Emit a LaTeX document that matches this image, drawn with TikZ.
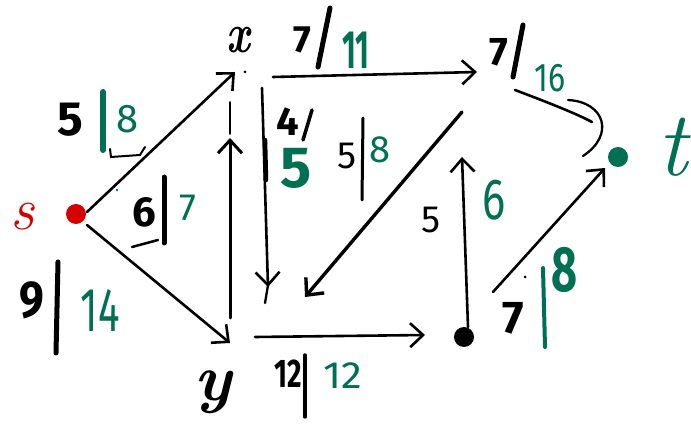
\documentclass[tikz,border=0pt]{standalone}
\usepackage{fontspec}
\usepackage{graphicx}
\newfontfamily\dg{Fira Sans}
\usetikzlibrary{arrows.meta,calc}
\definecolor{grn}{RGB}{0,112,82}
\definecolor{rd}{RGB}{215,0,0}
\newcommand{\fsz}[1]{\fontsize{#1}{#1}\selectfont}
\newcommand{\nx}[2]{\scalebox{#1}[1]{#2}}
\begin{document}
\begin{tikzpicture}[x=1pt,y=-1pt,
  edge/.style={line width=2.6pt,line cap=round,-{Straight Barb[length=13pt,width=24pt]}},
  stroke/.style={line width=2.3pt,line cap=round},
  bar/.style={line width=4pt,line cap=round},
  lbl/.style={inner sep=0pt,font=\dg}]
\useasboundingbox (0,0) rectangle (691,427);
% vertices
\coordinate (s) at (76,214);
\coordinate (x) at (238,72);
\coordinate (y) at (230,340);
\coordinate (w) at (492,72);
\coordinate (b) at (464,337);
\coordinate (t) at (618,157);
\fill[rd] (s) circle (10);
\fill[grn] (t) circle (10);
\fill (b) circle (10);
\fill ($(x)+(7,0)$) circle (1.5);
\fill[grn] (117,190) circle (1.3);
\fill (525,277) circle (1.5);
% vertex names
\node[inner sep=0pt,rd,font=\fsz{60}\itshape] (ns) at (22,217) {s};
\node[inner sep=0pt,font=\fsz{56}\bfseries\itshape] (nx) at (238,40) {\nx{0.75}{x}};
\node[inner sep=0pt,font=\fsz{66}\bfseries\itshape] (ny) at (213,392) {y};
\node[inner sep=0pt,grn,font=\fsz{92}\itshape] (nt) at (672,147) {t};
% edges
\draw[edge] ($(s)+(11,-2)$) -- ($(x)+(-3,0)$);
\draw[edge] ($(s)+(11,11)$) -- ($(y)+(0,3)$);
\draw[edge,line width=3pt] ($(y)+(0,-22)$) -- ($(x)+(-8,66)$);
\draw[stroke,line width=1.8pt] ($(x)+(-8,62)$) -- ($(x)+(-8,30)$);
\draw[edge] ($(x)+(24,16)$) -- ($(y)+(38,-53)$);
\draw[stroke] ($(y)+(38,-55)$) -- ($(y)+(35,-37)$);
\draw[line width=4.5pt,line cap=round] ($(x)+(27,68)$) -- ($(x)+(28,108)$);
\draw[edge] ($(x)+(35,5)$) -- ($(w)+(-15,0)$);
\draw[edge,line width=3.4pt] ($(w)+(-30,40)$) -- ($(y)+(75,-43)$);
\draw[edge] ($(y)+(25,-3)$) -- ($(b)+(-39,-2)$);
\draw[edge] ($(b)+(4,-10)$) -- ($(b)+(-2,-180)$);
\draw[edge] ($(b)+(29,-45)$) -- ($(t)+(-13,11)$);
\draw[stroke,line width=2.6pt] ($(w)+(23,18)$) .. controls ($(w)+(60,32)$) and ($(w)+(85,42)$) .. ($(t)+(-26,-35)$);
\draw[stroke] ($(t)+(-50,-57)$) .. controls ($(t)+(-13,-55)$) and ($(t)+(-3,-22)$) .. ($(t)+(-35,-1)$);
% label s->x : 5|8
\node[lbl,font=\dg\fsz{48}\bfseries] (l1a) at (70,120) {5};
\draw[bar,grn,line width=6pt] (103,92) -- (103,150);
\node[lbl,grn,font=\dg\fsz{40}] (l1b) at (128,119) {8};
\draw[stroke,line width=2pt] (110,149) -- (111,157) -- (140,155) -- (145,147);
% label y->x : 6|7
\node[lbl,font=\dg\fsz{42}\bfseries] (l2a) at (144,212) {6};
\draw[bar,line width=5pt] (164,177) -- (164,243);
\draw[stroke,line width=2.5pt] (132,247) -- (158,240);
\node[lbl,grn,font=\dg\fsz{38}] (l2b) at (188,208) {7};
% label s->y : 9|14
\node[lbl,font=\dg\fsz{52}\bfseries] (l3a) at (32,300) {\nx{0.85}{9}};
\draw[bar,line width=5pt] (58,262) -- (56,353);
\node[lbl,grn,font=\dg\fsz{62}] (l3b) at (100,310) {\nx{0.65}{14}};
% label x->w : 7/11
\node[lbl,font=\dg\fsz{38}\bfseries] (l4a) at (302,40) {7};
\draw[bar,line width=5pt] (330,8) -- (318,67);
\node[lbl,grn,font=\dg\fsz{54}\bfseries] (l4b) at (356,50) {\nx{0.55}{11}};
% label x->y : 4/5
\node[lbl,font=\dg\fsz{40}\bfseries] (l5a) at (288,122) {4};
\draw[bar,line width=3.5pt] (312,110) -- (303,140);
\node[lbl,grn,font=\dg\fsz{58}\bfseries] (l5b) at (296,168) {5};
% label w->y : 5|8
\node[lbl,font=\dg\fsz{38}] (l6a) at (347,156) {5};
\draw[bar,line width=3pt] (363,118) -- (362,200);
\node[lbl,grn,font=\dg\fsz{38}] (l6b) at (380,150) {8};
% label y->b : 12|12
\node[lbl,font=\dg\fsz{40}\bfseries] (l7a) at (288,374) {\nx{0.7}{12}};
\draw[bar,line width=3.5pt] (305,355) -- (305,417);
\node[lbl,grn,font=\dg\fsz{38}] (l7b) at (343,376) {\nx{1.1}{12}};
% label b-> up : 5 6
\node[lbl,font=\dg\fsz{38}] (l8a) at (431,220) {5};
\node[lbl,grn,font=\dg\fsz{58}] (l8b) at (494,200) {\nx{0.75}{6}};
% label w->t : 7/16
\node[lbl,font=\dg\fsz{40}\bfseries] (l9a) at (499,52) {7};
\draw[bar,line width=5pt] (523,25) -- (513,77);
\node[lbl,grn,font=\dg\fsz{40}] (l9b) at (550,78) {\nx{0.8}{16}};
% label b->t : 7|8
\node[lbl,font=\dg\fsz{46}\bfseries] (l10a) at (513,318) {7};
\draw[bar,grn] (543,268) -- (545,347);
\node[lbl,grn,font=\dg\fsz{64}\bfseries] (l10b) at (565,270) {\nx{0.7}{8}};
\end{tikzpicture}
\end{document}
